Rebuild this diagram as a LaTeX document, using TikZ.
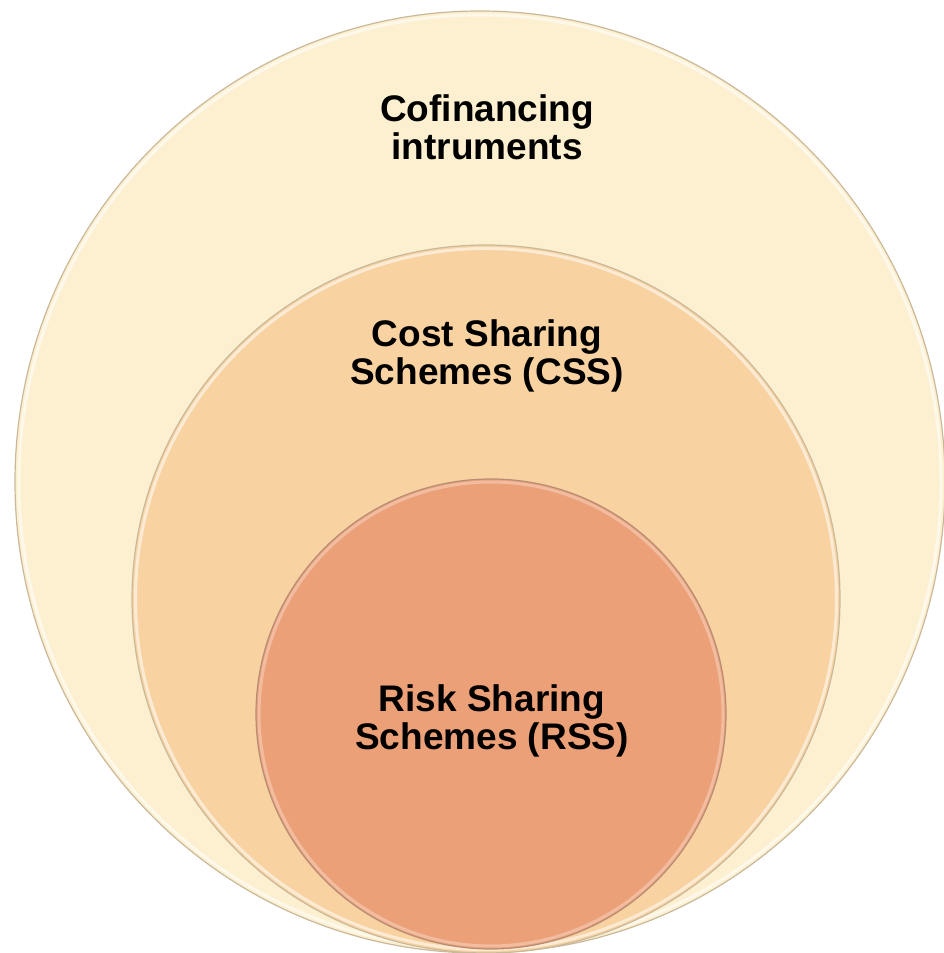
\documentclass[tikz,border=0pt]{standalone}
\usepackage{fontspec}
\setmainfont{Liberation Sans}
\definecolor{outerfill}{HTML}{FDF0D1}
\definecolor{midfill}{HTML}{F8D3A1}
\definecolor{innerfill}{HTML}{EBA077}
\definecolor{rimline}{HTML}{C9B99A}
\tikzset{
  rim/.style={draw=rimline, line width=1.2pt},
  glow/.style={draw=white, draw opacity=0.55, line width=3pt},
  label/.style={align=center, font=\fontsize{37}{38}\selectfont\bfseries, text=black, inner sep=0pt}
}
\begin{document}
\begin{tikzpicture}[x=1pt,y=1pt]
\useasboundingbox (0,0) rectangle (943,953);
% outer
\fill[outerfill] (480,471) ellipse [x radius=465, y radius=471];
\draw[glow] (480,471) ellipse [x radius=461, y radius=467];
\draw[rim] (480,471) ellipse [x radius=465, y radius=471];
% middle
\fill[midfill] (486,354) circle [radius=354];
\draw[glow] (486,354) circle [radius=350.5];
\draw[rim] (486,354) circle [radius=354];
% inner
\fill[innerfill] (491,239) circle [radius=235];
\draw[glow, draw opacity=0.3] (491,239) circle [radius=232];
\draw[rim, draw=innerfill!70!black!80] (491,239) circle [radius=235];
% labels
\node[label] (cof) at (487,826) {Cofinancing\\intruments};
\node[label] (css) at (487,597) {Cost Sharing\\Schemes (CSS)};
\node[label] (rss) at (492,232) {Risk Sharing\\Schemes (RSS)};
\end{tikzpicture}
\end{document}
